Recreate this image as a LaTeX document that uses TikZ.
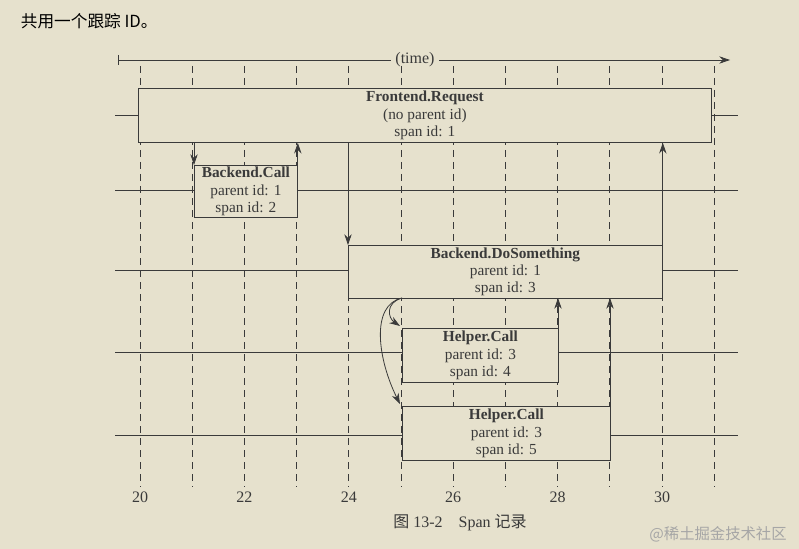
\documentclass[tikz,border=0pt]{standalone}
\usepackage{fontspec}
\setmainfont{Liberation Serif}
\newfontfamily\cjk{Noto Sans CJK SC}
\usetikzlibrary{arrows.meta}
\definecolor{bg}{HTML}{E6E1CD}
\definecolor{ink}{HTML}{3A3A3A}
\begin{document}
\begin{tikzpicture}[x=0.75pt,y=-0.75pt,
  ink, line width=0.6pt, >={Stealth[length=8pt,width=5.5pt]},
  box/.style={draw=ink, fill=bg, align=center, font=\fontsize{11.5}{13}\selectfont, inner sep=0pt, anchor=north west},
  dl/.style={dash pattern=on 5pt off 4pt, line width=0.5pt},
  lab/.style={font=\fontsize{12}{13}\selectfont}]
\fill[bg] (0,0) rectangle (799,549);
\useasboundingbox (0,0) rectangle (799,549);
\node[anchor=west, font=\cjk\fontsize{12.5}{14}\selectfont, text=black] (top) at (16,21) {共用一个跟踪 ID。};
% dashed time lines
\foreach \i in {0,...,11} { \draw[dl] ({140+\i*52.2},66) -- ({140+\i*52.2},487); }
% time axis
\coordinate (ts) at (118,60); \coordinate (te) at (730,60);
\node[lab] (time) at (415,60) {(time)};
\draw (118,55) -- (118,65);
\draw (ts) -- (time.west); \draw[->] (time.east) -- (te);
% horizontal lines
\foreach \y in {115,190,270,352,435} { \draw (115,\y) -- (738,\y); }
% boxes
\node[box, minimum width=573*0.75pt, minimum height=54*0.75pt] (fe) at (138,88) {\textbf{Frontend.Request}\\(no parent id)\\span id: 1};
\node[box, minimum width=103*0.75pt, minimum height=52*0.75pt] (bc) at (194,165) {\textbf{Backend.Call}\\parent id: 1\\span id: 2};
\node[box, minimum width=314*0.75pt, minimum height=53*0.75pt] (bd) at (348,245) {\textbf{Backend.DoSomething}\\parent id: 1\\span id: 3};
\node[box, minimum width=156*0.75pt, minimum height=54*0.75pt] (h1) at (402,328) {\textbf{Helper.Call}\\parent id: 3\\span id: 4};
\node[box, minimum width=208*0.75pt, minimum height=54*0.75pt] (h2) at (402,406) {\textbf{Helper.Call}\\parent id: 3\\span id: 5};
% arrows
\draw[->] (fe.south west -| bc.north west) -- (bc.north west);
\draw[->] (bc.north east) -- (fe.south west -| bc.north east);
\draw[->] (fe.south west -| bd.north west) -- (bd.north west);
\draw[->] (bd.north east) -- (fe.south west -| bd.north east);
\draw[->] (558,328) -- (558,298);
\draw[->] (610,406) -- (610,298);
\coordinate (c0) at (402,298);
\draw[->] (c0) .. controls (385,303) and (388,318) .. (400,326);
\draw[->] (c0) .. controls (370,305) and (378,360) .. (400,404);
% tick labels
\foreach \t [count=\k from 0] in {20,22,...,30} { \node[lab] (t\t) at ({140+\k*104.4},497) {\t}; }
\node[font=\fontsize{12}{13}\selectfont] (cap) at (460,523) {{\cjk 图} 13-2\quad Span {\cjk 记录}};
\node[font=\cjk\fontsize{11.5}{12}\selectfont, text=gray!70] (wm) at (718,534) {@稀土掘金技术社区};
\end{tikzpicture}
\end{document}
